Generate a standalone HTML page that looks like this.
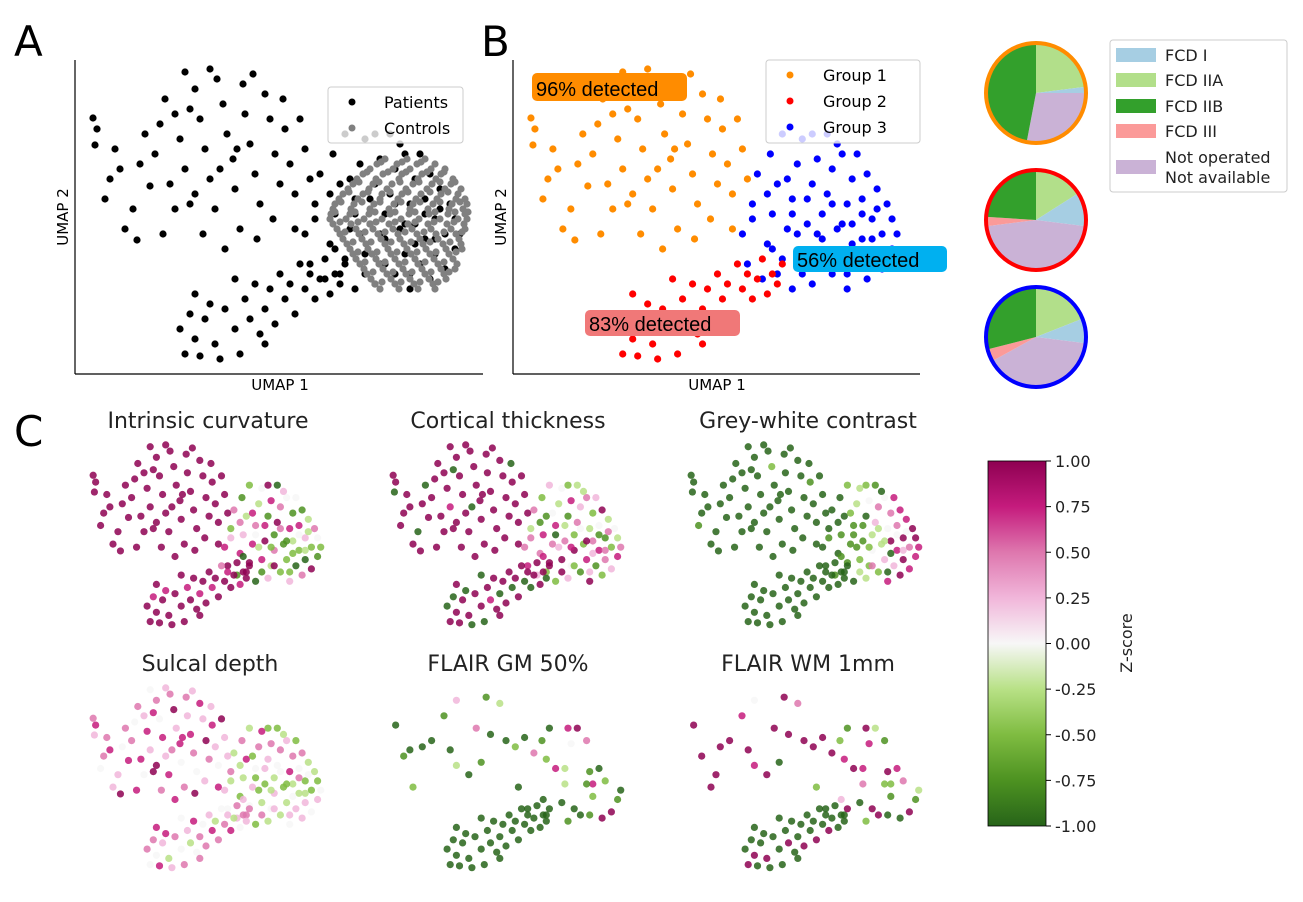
<!DOCTYPE html>
<html><head><meta charset="utf-8"><style>
html,body{margin:0;padding:0;background:#fff;}
svg{display:block;font-family:"DejaVu Sans","Liberation Sans",sans-serif;}
.ann{font-family:"Liberation Sans","DejaVu Sans",sans-serif;}
</style></head><body>
<svg id="fig" width="1303" height="902" viewBox="0 0 1303 902">
<g id="panelA">
<text x="14" y="56" font-size="42">A</text>
<g id="ptsA"></g>
<line x1="75" y1="60" x2="75" y2="374" stroke="#000" stroke-width="1.2"/>
<line x1="75" y1="374" x2="483" y2="374" stroke="#000" stroke-width="1.2"/>
<text x="280" y="390" font-size="15" text-anchor="middle">UMAP 1</text>
<text transform="translate(68,217) rotate(-90)" font-size="15" text-anchor="middle">UMAP 2</text>
<g>
<rect x="328" y="87" width="135" height="56" rx="3" fill="#fff" fill-opacity="0.8" stroke="#ccc"/>
<circle cx="352" cy="102" r="3.5" fill="#000"/>
<text x="384" y="108" font-size="16">Patients</text>
<circle cx="352" cy="128" r="3.5" fill="#808080"/>
<text x="384" y="134" font-size="16">Controls</text>
</g>
</g>
<g id="panelB">
<text x="481" y="56" font-size="42">B</text>
<g id="ptsB"></g>
<line x1="513" y1="60" x2="513" y2="374" stroke="#000" stroke-width="1.2"/>
<line x1="513" y1="374" x2="920" y2="374" stroke="#000" stroke-width="1.2"/>
<text x="717" y="390" font-size="15" text-anchor="middle">UMAP 1</text>
<text transform="translate(506,217) rotate(-90)" font-size="15" text-anchor="middle">UMAP 2</text>
<g>
<rect x="766" y="60" width="154" height="83" rx="3" fill="#fff" fill-opacity="0.8" stroke="#ccc"/>
<circle cx="790" cy="75" r="3.5" fill="#ff8c00"/>
<text x="823" y="81" font-size="16">Group 1</text>
<circle cx="790" cy="101" r="3.5" fill="#ff0000"/>
<text x="823" y="107" font-size="16">Group 2</text>
<circle cx="790" cy="127" r="3.5" fill="#0000ff"/>
<text x="823" y="133" font-size="16">Group 3</text>
</g>
<g>
<rect x="532" y="73" width="155" height="28" rx="5" fill="#ff8c00"/>
<text class="ann" x="536" y="96" font-size="20">96% detected</text>
</g>
<g>
<rect x="793" y="246" width="154" height="26" rx="5" fill="#00b0f0"/>
<text class="ann" x="797" y="267" font-size="20">56% detected</text>
</g>
<g>
<rect x="585" y="310" width="155" height="26" rx="5" fill="#f07878"/>
<text class="ann" x="589" y="331" font-size="20">83% detected</text>
</g>
</g>
<g id="pies"></g>
<g>
<rect x="1110" y="40" width="177" height="152" rx="3" fill="#fff" stroke="#ccc"/>
<rect x="1116" y="48" width="40" height="14" fill="#a6cee3"/>
<text x="1165" y="61" font-size="16" fill="#222">FCD I</text>
<rect x="1116" y="73" width="40" height="14" fill="#b2df8a"/>
<text x="1165" y="86" font-size="16" fill="#222">FCD IIA</text>
<rect x="1116" y="99" width="40" height="14" fill="#33a02c"/>
<text x="1165" y="112" font-size="16" fill="#222">FCD IIB</text>
<rect x="1116" y="124" width="40" height="14" fill="#fb9a99"/>
<text x="1165" y="137" font-size="16" fill="#222">FCD III</text>
<rect x="1116" y="160" width="40" height="14" fill="#cab2d6"/>
<text x="1165" y="163" font-size="16" fill="#222">Not operated</text>
<text x="1165" y="183" font-size="16" fill="#222">Not available</text>
</g>
<g id="panelC">
<text x="14" y="446" font-size="42">C</text>
<g id="ptsC"></g>
<defs><linearGradient id="piyg" x1="0" y1="1" x2="0" y2="0">
<stop offset="0" stop-color="#276419"/><stop offset="0.125" stop-color="#4d9221"/><stop offset="0.25" stop-color="#7fbc41"/><stop offset="0.375" stop-color="#b8e186"/><stop offset="0.5" stop-color="#f7f7f7"/><stop offset="0.625" stop-color="#f1b6da"/><stop offset="0.75" stop-color="#de77ae"/><stop offset="0.875" stop-color="#c51b7d"/><stop offset="1" stop-color="#8e0152"/>
</linearGradient></defs>
<rect x="988" y="461" width="58" height="365" fill="url(#piyg)" stroke="#000" stroke-width="0.8"/>
<g id="cbticks"></g>
<text transform="translate(1132,643) rotate(-90)" font-size="16" text-anchor="middle" fill="#222">Z-score</text>
</g>
</svg>
<script>
// UMAP coordinates of patients, per group
const g1U = [[1.8,25.6],[2.2,24.5],[2.0,22.9],[3.5,19.5],[3.0,17.5],[4.5,20.5],[5.8,16.5],[6.2,13.4],[5.0,14.5],[7.5,18.8],[8.0,22.0],[8.5,25.0],[9.0,27.5],[10.0,26.0],[10.5,23.5],[11.0,20.5],[11.5,17.0],[12.0,28.5],[12.5,25.5],[13.0,22.5],[13.5,19.5],[14.0,16.5],[14.2,29.5],[14.8,27.0],[15.2,24.0],[15.8,21.5],[16.0,18.5],[16.5,14.5],[17.0,26.0],[17.5,23.0],[18.0,20.0],[18.5,17.0],[19.0,28.0],[19.5,25.5],[20.0,22.0],[20.5,19.0],[21.0,24.5],[21.5,21.0],[22.0,18.0],[22.5,25.5],[23.0,22.5],[9.5,19.0],[10.0,16.5],[12.8,14.0],[13.5,30.5],[11.5,26.5],[16.8,29.0],[18.2,13.5],[19.8,15.5],[8.8,14.0],[7.0,24.0],[6.5,21.0],[15.0,12.5],[17.8,30.0],[12.0,18.0],[14.5,20.5],[20.8,27.5],[16.2,22.5],[11.0,30.2],[4.0,22.5],[23.5,19.5],[22.0,14.5]];
const g3U = [[23,14],[23.5,11],[24,17],[24.5,20],[25,9.5],[25.5,13],[25.8,22],[26,16],[26.5,19],[27,11.5],[27,24],[27.5,14.5],[28,8.5],[28,17.5],[28.5,21],[29,12],[29,23.5],[29.5,15],[30,19],[30,9],[30.5,11],[30.5,21.5],[31,16],[31,13.5],[31.5,24],[31.5,18],[32,10],[32,20.5],[32.5,14.5],[33,22],[33,12],[33.5,17],[33.5,8.5],[34,19.5],[34,15],[34.5,11],[34.5,22],[35,17.5],[35,13.5],[35.5,9.5],[35.5,20],[36,15.5],[36,12],[36.5,18.5],[37,10.5],[37,14],[37.5,17],[38,12.5],[38,15.5],[38.5,14],[24,15.5],[26.5,10],[28.5,14],[29.5,17.5],[30.5,14],[32,17],[33,15],[35,16],[36,13.5],[31,11],[34,13],[27.5,19.5],[26,12.5],[32.5,23],[29,10],[30,24],[36.5,16.5],[25.5,18],[33.5,10],[28,16]];
const g2U = [[10.5,4.5],[11,2],[11.5,6],[12,3.5],[12.5,1.8],[13,5.5],[13.5,7],[14,3],[15,6.5],[16,4.5],[16.5,2],[17,7.5],[17.5,5.5],[18,9],[18.5,4],[19,6.5],[19.5,8.5],[20,5],[20.5,10],[21,7.5],[21.5,9],[22,6],[22.5,11],[23,8.5],[23.5,10],[24,7.5],[24.5,9.5],[25,11.5],[25.5,8],[26,10],[26.5,9],[27,11],[16,9.5],[12,8],[14.5,1.5],[19,3]];
// controls: rows of [UMAP2, [UMAP1 ...]]
const ctrlRows = [[21.5,[31,33.2,35]],[21,[30.2,32.2,34.2,36]],[20.5,[29.5,31.8,33.5,35.6,37]],[20,[28.8,30.8,32.7,34.7,36.6]],[19.5,[28.2,30.1,32.4,34.3,36.1,37.8]],[19,[27.8,29.8,31.7,33.8,35.7,37.6]],[18.5,[27.3,29.4,31.2,33.1,35.2,37,38.6]],[18,[26.8,28.8,30.7,32.7,34.6,36.6,38.3]],[17.5,[26.4,28.3,30.5,32.3,34.1,36.2,38.1,39]],[17,[26,27.9,29.9,31.9,33.8,35.8,37.7,39.2]],[16.5,[25.8,27.6,29.5,31.4,33.5,35.3,37.4,38.8]],[16,[25.6,27.5,29.4,31.5,33.4,35.4,37.3,39]],[15.5,[25.5,27.1,28.9,30.7,32.6,34.4,36.5,38.3,39.2]],[15,[25.8,27.6,29.5,31.4,33.3,35.3,37.2,38.9]],[14.5,[26.2,28.1,29.8,31.8,33.7,35.6,37.6,39]],[14,[26.5,28.4,30.3,32.3,34.2,36.1,38.1]],[13.5,[26.8,28.7,30.6,32.5,34.5,36.3,38.4]],[13,[27.2,29.1,31,32.9,34.8,36.8,38.6]],[12.5,[27.5,29.3,31.3,33.2,35.1,37.1,38.7]],[12,[27.8,29.7,31.6,33.6,35.5,37.4]],[11.5,[28.1,30.1,32,34,35.9,37.8]],[11,[28.5,30.4,32.4,34.3,36.3,38.2]],[10.5,[28.9,30.8,32.8,34.7,36.6,38]],[10,[29.2,31.2,33.1,35,36.9]],[9.5,[29.6,31.6,33.5,35.4,37.1]],[9,[30,32,33.9,35.8]],[8.5,[30.5,32.4,34.3,36]],
[21.2,[30.6,32.7,34.6]],[20.2,[29.2,31.3,33.1,35.2,36.9]],[19.2,[28.4,30.4,32.5,34.4,36.5,38]],[18.2,[27.4,29.3,31.5,33.3,35.5,37.3]],[17.2,[26.6,28.7,30.5,32.6,34.5,36.5,38.5]],[16.2,[26,28,30,32,34,36,38,39.3]],[15.2,[26.5,28.3,30.1,32,34,35.9,37.9]],[14.2,[27,29,31,33,34.9,36.9,38.7]],[13.2,[27.8,29.6,31.6,33.6,35.5,37.5]],[12.2,[28.3,30.2,32.2,34.2,36.1,38.1]],[11.2,[29,31,33,35,36.9]],[10.2,[29.8,31.8,33.7,35.6,37.4]],[9.2,[30.7,32.6,34.5,36.3]]];
// feature z-score levels: digit d -> (d-4)/4, '.' = missing
const featTitles = ["Intrinsic curvature","Cortical thickness","Grey-white contrast","Sulcal depth","FLAIR GM 50%","FLAIR WM 1mm"];
const featG1 = ["8888888888 8888888888 8888888888 8888888888 8888888888 8888888888 88","8808880888 8888878888 8888888888 8888888888 8888808888 0888800888 88","0000100000 0000000000 0002000000 0000001000 0000000000 0000000000 00","6756475857 6465758647 5768574657 6475867548 5746576857 6475865746 57",".0.1.0..2. 0..1.0.5.. .0..6.1..0 ..3.0..2.. 0.....1... .0..3..... .0",".8.8..8.8. 8..7.8.4.. .8..8.0..8 ..6.8..8.. 8.....8... .8..7..... .2"];
const featG3 = ["7826171538 2706374815 3716082614 2751304726 1503826142 5837261438 2705183624","6736562718 5627384615 4728361526 7382615472 8163524736 6253748162 5473826150","0000100101 2101323103 2434152634 5476857678 7887768787 1011233456 0210324001","5463526374 3524637253 4635243625 3746352435 6253423524 3625342635 4253624352",".0.6..1.2. 0..7.0.3.1 .4..8.0..6 .1..7..0.8 .2..8..1.0 .0.3..1..0 2.0..7..1.",".0.8..2.7. 1..8.0.6.2 .7..3.8..1 .8..2..7.0 .6..8..1.3 .0.7..2..8 1.5..8..0."];
const featG2 = ["8878887888 8788878887 8868788878 888888","0808880888 0878808880 8880808888 080808","0000000000 0000000000 0000000000 000000","6464757364 6537464657 3646573646 564756","0000000000 0000000000 0000000000 000000","0808000800 0080000800 0800080000 080000"];
// pie fractions: FCD I, IIA, IIB, III, not operated
const pieCats = ["FCD I","FCD IIA","FCD IIB","FCD III","Not operated"];
const pieG1 = [0.02,0.23,0.47,0.0,0.28];
const pieG2 = [0.11,0.16,0.24,0.03,0.46];
const pieG3 = [0.08,0.19,0.29,0.04,0.40];
const cbTicks = [1,0.75,0.5,0.25,0,-0.25,-0.5,-0.75,-1];

const NS="http://www.w3.org/2000/svg";
function mk(tag,attrs,parent){const e=document.createElementNS(NS,tag);for(const k in attrs)e.setAttribute(k,attrs[k]);parent.appendChild(e);return e;}
const xA=u=>75+u*10, yA=v=>374-v*10;
const xB=u=>513+u*9.975, yB=v=>374-v*10;
const gA=document.getElementById('ptsA'), gB=document.getElementById('ptsB'), gC=document.getElementById('ptsC');
const patients=g1U.concat(g3U,g2U);
patients.forEach(p=>{const c=mk('circle',{cx:xA(p[0]),cy:yA(p[1]),r:3.6,fill:'#000'},gA);

});
ctrlRows.forEach(row=>row[1].forEach(u=>{const c=mk('circle',{cx:xA(u),cy:yA(row[0]),r:3.6,fill:'#808080'},gA);

}));
[[g1U,'#ff8c00','group-1-point'],[g3U,'#0000ff','group-3-point'],[g2U,'#ff0000','group-2-point']].forEach(([arr,col,nm])=>arr.forEach(p=>{const c=mk('circle',{cx:xB(p[0]),cy:yB(p[1]),r:3.6,fill:col},gB);

}));
const stops=["#276419","#4d9221","#7fbc41","#b8e186","#f7f7f7","#f1b6da","#de77ae","#c51b7d","#8e0152"];
function hx(h){return [1,3,5].map(i=>parseInt(h.substr(i,2),16));}
function cmap(z){let t=(Math.max(-1,Math.min(1,z))+1)/2*8;let i=Math.min(7,Math.floor(t));let f=t-i;const a=hx(stops[i]),b=hx(stops[i+1]);return 'rgb('+a.map((v,k)=>Math.round(v+(b[k]-v)*f)).join(',')+')';}
const offs=[[0,0],[300,0],[598,0],[0,243],[300,243],[598,243]];
const titlePos=[[208,428],[508,428],[808,428],[210,671],[508,671],[808,671]];
featTitles.forEach((t,fi)=>{
 const tt=mk('text',{x:titlePos[fi][0],y:titlePos[fi][1],'font-size':22,'text-anchor':'middle',fill:'#222'},gC);tt.textContent=t;
 
 
 const vals=(featG1[fi]+featG3[fi]+featG2[fi]).replace(/ /g,'');
 const ox=offs[fi][0], oy=offs[fi][1];
 patients.forEach((p,i)=>{const ch=vals[i];if(ch===undefined||ch==='.')return;
  const z=(parseInt(ch)-4)/4;
  const c=mk('circle',{cx:82+ox+p[0]*6.2,cy:634+oy-p[1]*6.2,r:3.6,fill:cmap(z),'fill-opacity':0.85},gC);
  
  });
});
const cbt=document.getElementById('cbticks');
cbTicks.forEach(v=>{const y=461+(1-v)/2*365;
 const l=mk('line',{x1:1046,x2:1051,y1:y,y2:y,stroke:'#000'},cbt);
 
 
 const t=mk('text',{x:1055,y:y+6,'font-size':16,fill:'#222'},cbt);t.textContent=v.toFixed(2);
 
 });
const pieCols={"FCD I":"#a6cee3","FCD IIA":"#b2df8a","FCD IIB":"#33a02c","FCD III":"#fb9a99","Not operated":"#cab2d6"};
const pieOrder=[1,0,4,3,2];
const gp=document.getElementById('pies');
[[pieG1,93,'#ff8c00','pie-group-1'],[pieG2,220,'#ff0000','pie-group-2'],[pieG3,337,'#0000ff','pie-group-3']].forEach(([fr,cy,bc,nm])=>{
 const cx=1036,r=49;let a=0;const tot=fr.reduce((s,v)=>s+v,0);
 pieOrder.forEach(k=>{const f=fr[k]/tot;if(f<=0)return;const a2=a+f*2*Math.PI;
  const x1=cx+r*Math.sin(a),y1=cy-r*Math.cos(a),x2=cx+r*Math.sin(a2),y2=cy-r*Math.cos(a2);
  const p=mk('path',{d:`M${cx},${cy}L${x1},${y1}A${r},${r} 0 ${f>0.5?1:0} 1 ${x2},${y2}Z`,fill:pieCols[pieCats[k]]},gp);
  
  
  a=a2;});
 const c=mk('circle',{cx:cx,cy:cy,r:r+1,fill:'none',stroke:bc,'stroke-width':4},gp);
 
 
});
</script>
</body></html>
